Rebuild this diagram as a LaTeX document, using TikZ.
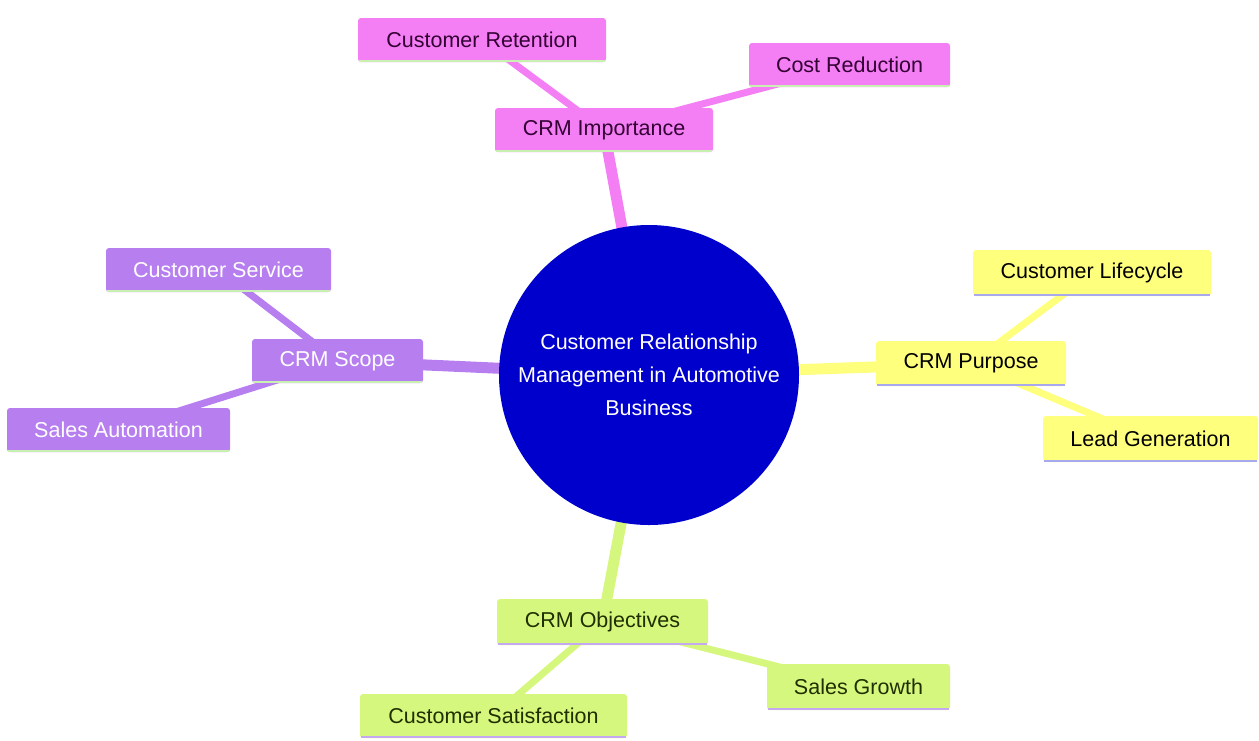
\documentclass[tikz,border=0pt]{standalone}
\usepackage{fontspec}
\setmainfont{Liberation Sans}
\definecolor{pinkf}{HTML}{F47EF4}
\definecolor{purpf}{HTML}{B77EF0}
\definecolor{yelf}{HTML}{FFFF7E}
\definecolor{grnf}{HTML}{D6F77E}
\definecolor{rootb}{HTML}{0000CC}
\definecolor{pinkt}{HTML}{330033}
\definecolor{grnt}{HTML}{1F2F00}
\definecolor{ulgreen}{HTML}{C8F0B0}
\definecolor{ulblue}{HTML}{A8A8EE}
\definecolor{ullav}{HTML}{C4A8F0}
\tikzset{
  box/.style={rounded corners=3pt, inner sep=0pt, font=\fontsize{21.5}{25}\selectfont},
  pinkbox/.style={box, fill=pinkf, text=pinkt},
  purpbox/.style={box, fill=purpf, text=white},
  yelbox/.style={box, fill=yelf, text=black},
  grnbox/.style={box, fill=grnf, text=grnt},
  trunk/.style={line width=11pt},
  branch/.style={line width=7pt},
}
% \mmbox{name}{style}{x1}{y1}{x2}{y2}{underline colour}{text}
\newcommand{\mmbox}[8]{%
  \node[#2, minimum width={(#5)-(#3)}, minimum height={(#6)-(#4)}] (#1) at ({((#3)+(#5))/2},{((#4)+(#6))/2}) {\raisebox{-1.5pt}{#8}};
  \draw[#7, line width=2.5pt] ({#3+1},{#6-1}) -- ({#5-1},{#6-1});
}
\begin{document}
\begin{tikzpicture}[x=1pt,y=-1pt]
\useasboundingbox (0,0) rectangle (1259,740);
% coordinates for edges (centres of nodes)
\coordinate (croot) at (649,375);
\coordinate (cimp) at (604,130);
\coordinate (cret) at (482,40);
\coordinate (ccost) at (849.5,65);
\coordinate (cscope) at (337.5,361);
\coordinate (cserv) at (218.5,270);
\coordinate (csales) at (118.5,430);
\coordinate (cpurp) at (971,363.5);
\coordinate (clife) at (1092,273);
\coordinate (clead) at (1150.5,439);
\coordinate (cobj) at (602.5,622);
\coordinate (cgrow) at (858.5,687);
\coordinate (csat) at (493.5,716);
% edges
\draw[pinkf, branch] (cimp) -- (cret);
\draw[pinkf, branch] (cimp) -- (ccost);
\draw[purpf, branch] (cscope) -- (cserv);
\draw[purpf, branch] (cscope) -- (csales);
\draw[yelf, branch] (cpurp) -- (clife);
\draw[yelf, branch] (cpurp) -- (clead);
\draw[grnf, branch] (cobj) -- (cgrow);
\draw[grnf, branch] (cobj) -- (csat);
\draw[pinkf, trunk] (croot) -- (cimp);
\draw[purpf, trunk] (croot) -- (cscope);
\draw[yelf, trunk] (croot) -- (cpurp);
\draw[grnf, trunk] (croot) -- (cobj);
% root
\node[circle, fill=rootb, minimum size=300pt, inner sep=0pt, text=white,
      align=center, font=\fontsize{21.5}{33}\selectfont] (root) at (croot)
  {Customer Relationship\\Management in Automotive\\Business};
% boxes
\mmbox{imp}{pinkbox}{495}{108}{713}{152}{ulgreen}{CRM Importance}
\mmbox{ret}{pinkbox}{358}{18}{606}{62}{ulgreen}{Customer Retention}
\mmbox{cost}{pinkbox}{749}{43}{950}{87}{ulgreen}{Cost Reduction}
\mmbox{scope}{purpbox}{252}{339}{423}{383}{ulgreen}{CRM Scope}
\mmbox{serv}{purpbox}{106}{248}{331}{292}{ulgreen}{Customer Service}
\mmbox{sales}{purpbox}{7}{408}{230}{452}{ulgreen}{Sales Automation}
\mmbox{purp}{yelbox}{876}{341}{1066}{386}{ulblue}{CRM Purpose}
\mmbox{life}{yelbox}{973}{250}{1211}{296}{ulblue}{Customer Lifecycle}
\mmbox{lead}{yelbox}{1043}{416}{1258}{462}{ulblue}{Lead Generation}
\mmbox{obj}{grnbox}{497}{599}{708}{645}{ullav}{CRM Objectives}
\mmbox{grow}{grnbox}{767}{664}{950}{710}{ullav}{Sales Growth}
\mmbox{sat}{grnbox}{360}{694}{627}{738}{ullav}{Customer Satisfaction}
\end{tikzpicture}
\end{document}
